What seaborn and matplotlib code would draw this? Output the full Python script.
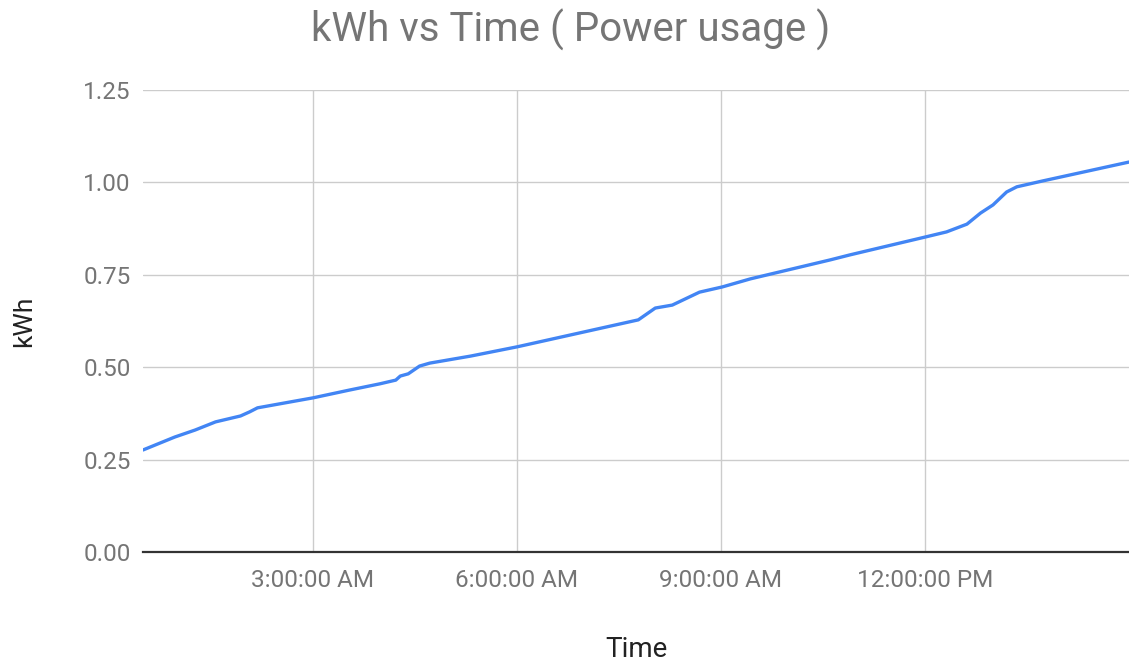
import matplotlib
matplotlib.use("Agg")
import matplotlib.pyplot as plt
import pandas as pd
import seaborn as sns

# readings: time of day and cumulative kWh
times = ["00:30", "00:58", "01:16", "01:34", "01:56", "02:04", "02:11", "02:40",
         "03:00", "03:32", "03:59", "04:13", "04:17", "04:24", "04:34", "04:43",
         "05:19", "06:00", "07:47", "08:02", "08:17", "08:41", "09:01", "09:26",
         "10:36", "10:54", "12:00", "12:19", "12:37", "12:49", "13:00", "13:12",
         "13:21", "13:44", "15:00"]
kwh = [0.276, 0.311, 0.330, 0.352, 0.368, 0.379, 0.390, 0.406,
       0.417, 0.438, 0.455, 0.465, 0.476, 0.482, 0.503, 0.511,
       0.530, 0.555, 0.628, 0.660, 0.668, 0.703, 0.717, 0.739,
       0.790, 0.804, 0.852, 0.866, 0.887, 0.917, 0.939, 0.974,
       0.988, 1.004, 1.055]

tick_times = ["03:00", "06:00", "09:00", "12:00"]
tick_labels = ["3:00:00 AM", "6:00:00 AM", "9:00:00 AM", "12:00:00 PM"]
y_ticks = [0.0, 0.25, 0.5, 0.75, 1.0, 1.25]

day = "2020-01-01 "
df = pd.DataFrame({"Time": pd.to_datetime([day + t for t in times]), "kWh": kwh})

sns.set_style("white")
plt.rcParams["font.family"] = ["Roboto", "DejaVu Sans"]

fig = plt.figure(figsize=(11.29, 6.66), dpi=100)
ax = fig.add_axes([0.1267, 0.1712, 0.8733, 0.6937])

sns.lineplot(data=df, x="Time", y="kWh", ax=ax, color="#4285F4", linewidth=2.4)

ax.set_xlim(pd.Timestamp(day + "00:30"), pd.Timestamp(day + "15:00"))
ax.set_ylim(0, 1.25)
ax.set_xticks([pd.Timestamp(day + t) for t in tick_times])
ax.set_xticklabels(tick_labels)
ax.set_yticks(y_ticks)
ax.set_yticklabels([f"{v:.2f}" for v in y_ticks])

ax.grid(True, color="#cccccc", linewidth=1)
ax.set_axisbelow(True)
for s in ["top", "right", "left"]:
    ax.spines[s].set_visible(False)
ax.spines["bottom"].set_color("#333333")
ax.spines["bottom"].set_linewidth(1.6)
ax.tick_params(axis="both", length=0, labelsize=17.5, labelcolor="#757575")
ax.tick_params(axis="x", pad=12)
ax.tick_params(axis="y", pad=9)

ax.set_xlabel("Time", fontsize=20, color="#222222", labelpad=32)
ax.set_ylabel("kWh", fontsize=19, color="#222222", labelpad=34)
fig.text(0.505, 0.955, "kWh vs Time ( Power usage )", ha="center", va="center",
         fontsize=29, color="#757575")

fig.savefig("out.png", dpi=100)
